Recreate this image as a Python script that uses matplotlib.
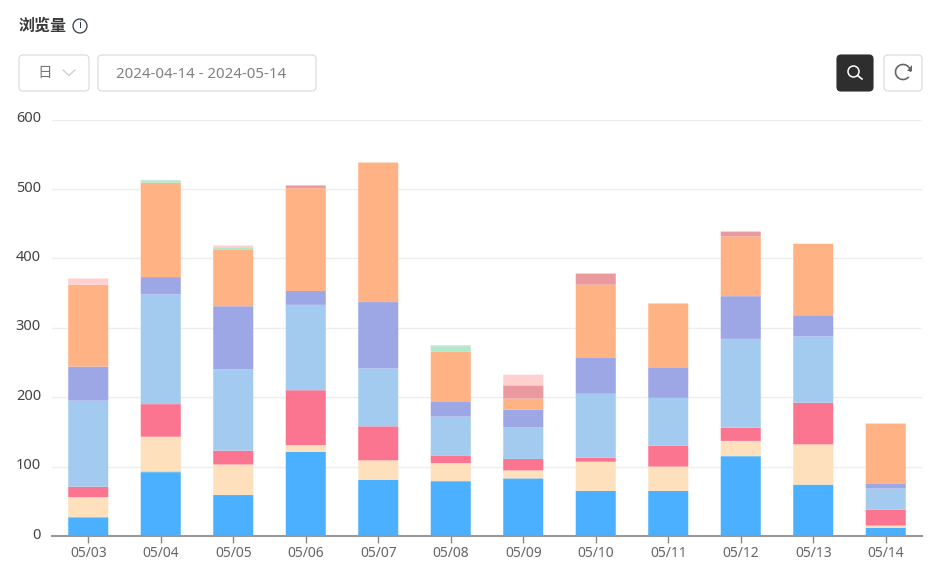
"""Stacked page-view bars with the small filter bar above them."""
import matplotlib

matplotlib.use("Agg")
import matplotlib.pyplot as plt
from matplotlib.patches import Arc, Circle, FancyBboxPatch, Polygon
from matplotlib.transforms import ScaledTranslation

plt.rcParams["font.family"] = ["Noto Sans", "Noto Sans CJK SC", "DejaVu Sans"]

W, H = 942, 573

days = ["05/03", "05/04", "05/05", "05/06", "05/07", "05/08",
        "05/09", "05/10", "05/11", "05/12", "05/13", "05/14"]
y_ticks = [0, 100, 200, 300, 400, 500, 600]

blue = [27, 92, 59, 121, 81, 79, 83, 65, 65, 115, 74, 12]
thin_green = [0, 1.5, 0, 0, 0, 0, 0, 0, 0, 0, 0, 0]
peach = [29, 49.5, 44, 10, 28, 26, 11.5, 42, 35, 22, 58, 3]
rose = [15, 47, 20, 79, 49, 11, 16.5, 6, 30, 19, 60, 23]
sky = [124, 158, 117, 123, 83.5, 56, 46, 92, 69, 128, 95.5, 30.5]
periwinkle = [49, 25, 91, 20, 95.5, 21, 25, 51.5, 44, 61.5, 30.5, 6.5]
orange = [118, 136, 82, 148, 201, 73, 16, 105.5, 92, 86, 103, 87]
salmon = [0, 0, 0, 4, 0, 0, 19, 16, 0, 6.5, 0, 0]
mint = [0, 3.5, 3, 0, 0, 7.5, 0, 0, 0, 0, 0, 0]
blush = [9, 0, 2.5, 0, 0, 1.5, 15.5, 0, 0, 1.5, 0, 0]

series = [
    (blue, "#4ab0ff"), (thin_green, "#b0e8cc"), (peach, "#fee0bc"),
    (rose, "#fb7590"), (sky, "#a3cbf0"), (periwinkle, "#9da7e6"),
    (orange, "#ffb284"), (salmon, "#ea9a9e"), (mint, "#b0e8cc"),
    (blush, "#ffd0d0"),
]

fig = plt.figure(figsize=(W / 100, H / 100), dpi=100)

# plot area, placed in pixels
ax = fig.add_axes([52 / W, 1 - 536 / H, 870 / W, 416.5 / H])
bottom = [0] * len(days)
for values, color in series:
    bars = ax.bar(range(len(days)), values, width=0.552, bottom=bottom, color=color, zorder=3)
    for b in bars:
        b.set_snap(False)
    bottom = [a + v for a, v in zip(bottom, values)]

ax.set_xlim(-0.5, len(days) - 0.5)
ax.set_ylim(0, 600)
ax.set_xticks(range(len(days)), days)
ax.set_yticks(y_ticks)
ax.grid(axis="y", color="#eeeeee", lw=1, zorder=0)
ax.tick_params(axis="x", length=5, width=1, color="#888888", labelcolor="#666666", labelsize=10, pad=2)
ax.tick_params(axis="y", length=0, labelcolor="#444444", labelsize=10.5, pad=8)
for label in ax.get_yticklabels():
    label.set_transform(label.get_transform() + ScaledTranslation(0, 2 / 72, fig.dpi_scale_trans))
for side in ("top", "right", "left"):
    ax.spines[side].set_visible(False)
ax.spines["bottom"].set_color("#999999")
ax.spines["bottom"].set_linewidth(1.5)
ax.spines["bottom"].set_zorder(4)

# header controls, drawn in pixel coordinates
ui = fig.add_axes([0, 0, 1, 1], facecolor="none")
ui.set_xlim(0, W)
ui.set_ylim(H, 0)
ui.axis("off")


def box(x, y, w, h, face="white", edge="#d9d9de"):
    ui.add_patch(FancyBboxPatch((x + 4, y + 4), w - 8, h - 8, boxstyle="round,pad=4,rounding_size=4",
                                fc=face, ec=edge, lw=0.8))


ui.text(19, 26, "浏览量", fontsize=11.5, weight="bold", color="#3a3a3a", va="center",
        family=["Noto Sans CJK SC", "DejaVu Sans"])
ui.add_patch(Circle((80, 26), 7, fc="white", ec="#2f3a4a", lw=0.9))
ui.text(80, 26, "i", fontsize=8, color="#2f3a4a", ha="center", va="center")

box(19, 55, 70, 36)
ui.text(45, 73, "日", fontsize=10.5, color="#777777", ha="center", va="center",
        family=["Noto Sans CJK SC", "DejaVu Sans"])
ui.plot([63, 69, 75], [70, 75.5, 70], color="#c8ccd4", lw=0.9)

box(98, 55, 218, 36)
ui.text(116, 74, "2024-04-14 - 2024-05-14", fontsize=10.8, color="#808080", va="center")

box(837, 55, 36, 36, face="#2e2e2e", edge="#2e2e2e")
ui.add_patch(Circle((853.5, 71.5), 5.5, fc="none", ec="white", lw=1.1))
ui.plot([857.5, 862], [75.5, 79], color="white", lw=1.2)

box(884, 55, 38, 36)
ui.add_patch(Arc((903, 72), 15, 15, theta1=-320, theta2=0, ec="#666666", lw=1.2))
ui.add_patch(Polygon([[912, 65], [912, 70.5], [906.5, 70.5]], fc="#666666", ec="none"))

fig.savefig("out.png", dpi=100)
